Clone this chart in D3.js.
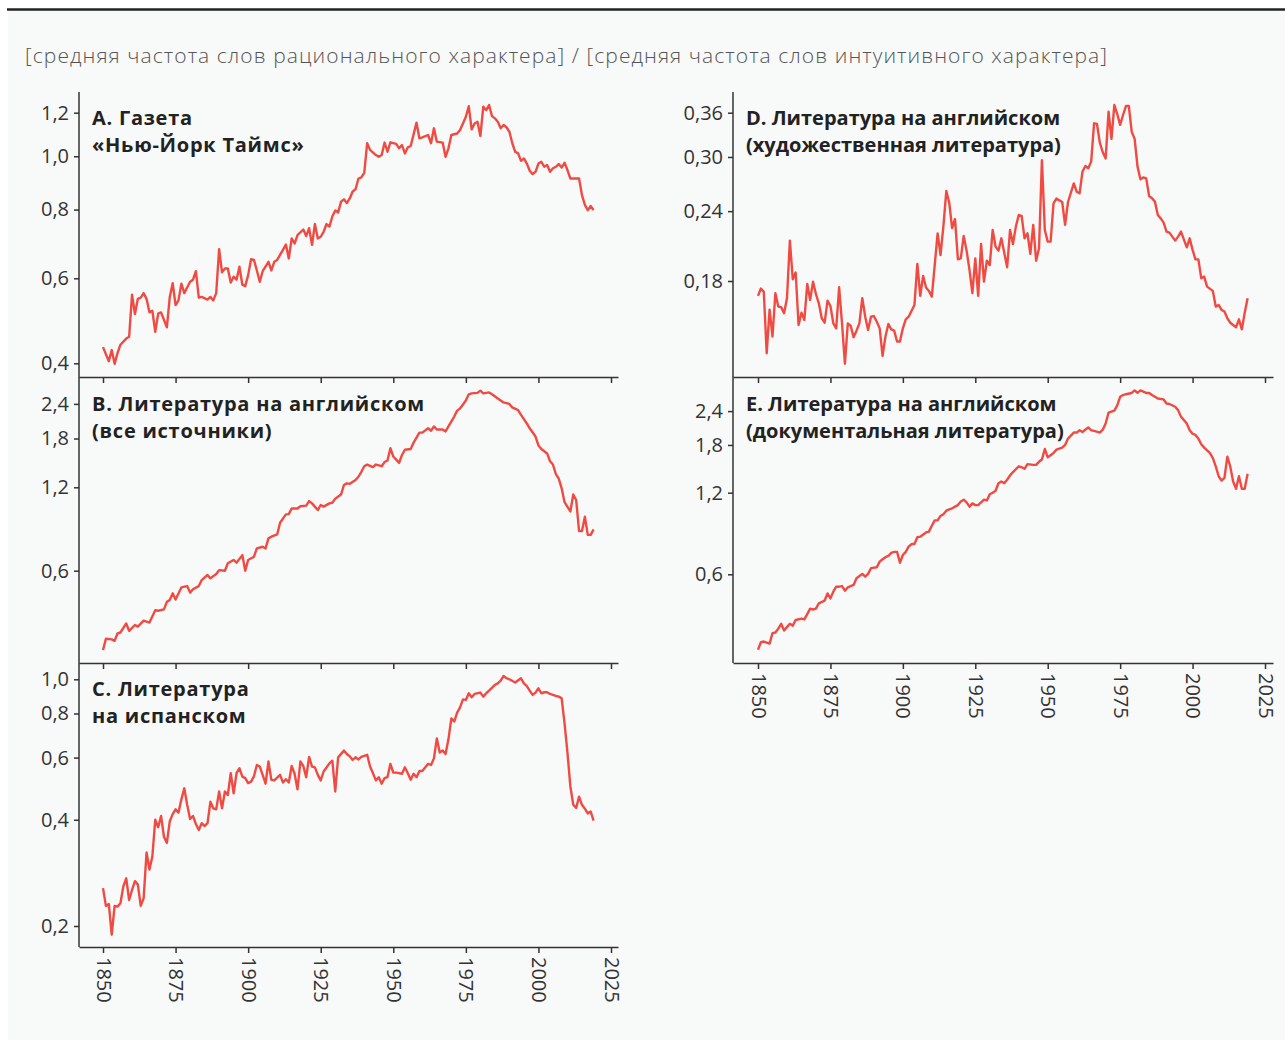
<!DOCTYPE html>
<html lang="ru">
<head>
<meta charset="UTF-8">
<title>Рациональное / интуитивное</title>
<script src="https://cdnjs.cloudflare.com/ajax/libs/d3/7.9.0/d3.min.js"></script>
<style>
  body { margin: 0; background: #fff; }
  svg { display: block; font-family: "Open Sans", "Noto Sans", sans-serif; }
  .axis path, .axis line { stroke: #333; stroke-width: 1.5; }
  .axis text { fill: #333; font-size: 20px; font-family: "Open Sans", sans-serif; }
  .title { font-size: 20px; font-weight: 700; fill: #222; }
  .title.wide { letter-spacing: 0.75px; }
  .subtitle { font-size: 21px; font-weight: 300; fill: #555; }
  .line { fill: none; stroke: #ef4b43; stroke-width: 2.4; stroke-linejoin: round; }
</style>
</head>
<body>
<svg id="chart" width="1285" height="1046"></svg>
<script>
// [year, ratio]
const nytSeries = [[1850,0.432],[1852,0.404],[1853,0.426],[1854,0.399],[1855,0.42],[1856,0.437],[1858,0.45],[1859,0.454],[1860,0.555],[1861,0.506],[1862,0.544],[1863,0.547],[1864,0.559],[1865,0.544],[1866,0.51],[1867,0.514],[1868,0.465],[1869,0.507],[1870,0.51],[1872,0.475],[1873,0.549],[1874,0.586],[1875,0.528],[1876,0.54],[1877,0.585],[1878,0.559],[1880,0.59],[1881,0.596],[1882,0.618],[1883,0.547],[1884,0.549],[1886,0.542],[1887,0.549],[1888,0.54],[1889,0.559],[1890,0.678],[1891,0.615],[1892,0.625],[1893,0.625],[1894,0.588],[1895,0.604],[1896,0.596],[1897,0.63],[1898,0.582],[1899,0.578],[1900,0.608],[1901,0.65],[1902,0.648],[1903,0.62],[1904,0.59],[1905,0.618],[1907,0.643],[1908,0.62],[1909,0.643],[1910,0.648],[1911,0.662],[1913,0.691],[1914,0.652],[1915,0.709],[1916,0.694],[1917,0.719],[1919,0.736],[1920,0.716],[1921,0.74],[1922,0.69],[1923,0.753],[1924,0.709],[1925,0.714],[1926,0.729],[1927,0.753],[1928,0.745],[1929,0.777],[1930,0.797],[1931,0.79],[1932,0.827],[1933,0.835],[1934,0.822],[1935,0.838],[1936,0.863],[1937,0.871],[1938,0.911],[1939,0.915],[1940,0.933],[1941,1.056],[1942,1.027],[1944,1.005],[1945,0.998],[1946,1.005],[1947,1.059],[1948,1.019],[1949,1.06],[1951,1.053],[1952,1.034],[1953,1.048],[1954,1.012],[1955,1.038],[1956,1.044],[1958,1.151],[1959,1.078],[1960,1.082],[1962,1.093],[1963,1.056],[1964,1.124],[1965,1.063],[1967,1.059],[1968,0.998],[1969,1.034],[1970,1.093],[1972,1.10],[1973,1.116],[1974,1.147],[1975,1.18],[1976,1.233],[1977,1.119],[1978,1.147],[1979,1.155],[1980,1.089],[1981,1.23],[1982,1.213],[1983,1.239],[1984,1.183],[1985,1.172],[1986,1.155],[1987,1.124],[1988,1.14],[1989,1.129],[1990,1.108],[1991,1.056],[1992,1.019],[1993,1.012],[1994,0.981],[1995,0.991],[1996,0.97],[1997,0.941],[1998,0.928],[1999,0.937],[2000,0.97],[2001,0.977],[2002,0.957],[2003,0.964],[2004,0.937],[2005,0.951],[2006,0.957],[2007,0.968],[2008,0.954],[2009,0.973],[2010,0.944],[2011,0.911],[2012,0.911],[2014,0.911],[2015,0.85],[2016,0.816],[2017,0.798],[2018,0.812],[2019,0.798]];

const engAllSeries = [[1850,0.31],[1851,0.341],[1853,0.339],[1854,0.335],[1855,0.356],[1856,0.359],[1858,0.387],[1859,0.364],[1861,0.382],[1862,0.377],[1864,0.396],[1865,0.393],[1866,0.39],[1868,0.432],[1869,0.43],[1871,0.435],[1872,0.463],[1873,0.47],[1874,0.497],[1875,0.472],[1877,0.522],[1879,0.528],[1880,0.50],[1881,0.514],[1883,0.528],[1884,0.555],[1886,0.579],[1887,0.563],[1889,0.584],[1890,0.603],[1892,0.6],[1893,0.638],[1895,0.656],[1896,0.641],[1898,0.683],[1899,0.60],[1900,0.656],[1902,0.674],[1903,0.722],[1905,0.732],[1906,0.722],[1907,0.785],[1908,0.796],[1910,0.811],[1911,0.894],[1913,0.958],[1914,0.96],[1915,1.006],[1917,1.006],[1918,1.025],[1920,1.03],[1921,1.07],[1922,1.05],[1924,0.993],[1925,1.036],[1926,1.022],[1928,1.05],[1929,1.055],[1930,1.092],[1932,1.13],[1933,1.223],[1934,1.24],[1935,1.235],[1937,1.275],[1938,1.31],[1939,1.365],[1940,1.43],[1941,1.45],[1943,1.42],[1944,1.45],[1946,1.43],[1947,1.48],[1948,1.50],[1949,1.66],[1950,1.55],[1951,1.51],[1952,1.47],[1953,1.57],[1954,1.64],[1956,1.65],[1957,1.74],[1959,1.89],[1960,1.89],[1962,1.96],[1963,1.92],[1964,1.99],[1965,1.94],[1967,1.94],[1968,1.91],[1969,1.99],[1971,2.16],[1972,2.27],[1973,2.31],[1975,2.47],[1976,2.6],[1977,2.62],[1979,2.63],[1980,2.68],[1981,2.62],[1983,2.64],[1984,2.60],[1986,2.51],[1988,2.43],[1990,2.40],[1991,2.33],[1993,2.28],[1994,2.19],[1996,2.04],[1997,1.96],[1999,1.83],[2000,1.70],[2001,1.65],[2003,1.59],[2004,1.49],[2005,1.45],[2006,1.34],[2007,1.29],[2008,1.19],[2009,1.06],[2011,0.982],[2012,1.13],[2013,1.08],[2014,0.834],[2015,0.834],[2016,0.94],[2017,0.808],[2018,0.808],[2019,0.846]];

const spanishSeries = [[1850,0.256],[1851,0.228],[1852,0.231],[1853,0.189],[1854,0.228],[1855,0.227],[1856,0.232],[1857,0.259],[1858,0.273],[1859,0.237],[1860,0.253],[1861,0.268],[1862,0.262],[1863,0.228],[1864,0.24],[1865,0.323],[1866,0.289],[1867,0.315],[1868,0.40],[1869,0.381],[1870,0.41],[1871,0.358],[1872,0.344],[1873,0.396],[1874,0.415],[1875,0.428],[1876,0.419],[1877,0.457],[1878,0.491],[1879,0.441],[1880,0.402],[1881,0.41],[1882,0.389],[1883,0.374],[1884,0.391],[1885,0.384],[1886,0.391],[1887,0.45],[1888,0.431],[1889,0.428],[1890,0.481],[1891,0.431],[1892,0.481],[1893,0.47],[1894,0.542],[1895,0.475],[1896,0.542],[1897,0.56],[1898,0.53],[1899,0.525],[1900,0.508],[1901,0.513],[1902,0.531],[1903,0.572],[1904,0.566],[1905,0.536],[1906,0.506],[1907,0.585],[1908,0.519],[1909,0.517],[1911,0.536],[1912,0.51],[1913,0.521],[1914,0.51],[1915,0.568],[1916,0.54],[1917,0.488],[1918,0.585],[1919,0.568],[1920,0.528],[1921,0.603],[1922,0.566],[1923,0.563],[1924,0.536],[1925,0.517],[1926,0.548],[1928,0.578],[1929,0.588],[1930,0.481],[1931,0.601],[1933,0.628],[1934,0.614],[1935,0.605],[1936,0.591],[1937,0.601],[1938,0.593],[1939,0.603],[1941,0.611],[1942,0.566],[1943,0.542],[1944,0.517],[1945,0.528],[1946,0.506],[1947,0.525],[1948,0.528],[1949,0.576],[1950,0.544],[1951,0.544],[1953,0.54],[1954,0.563],[1955,0.542],[1956,0.519],[1957,0.54],[1958,0.528],[1959,0.55],[1960,0.55],[1962,0.576],[1963,0.572],[1964,0.597],[1965,0.68],[1966,0.62],[1967,0.628],[1968,0.614],[1969,0.676],[1970,0.775],[1971,0.759],[1972,0.805],[1973,0.833],[1974,0.877],[1975,0.874],[1976,0.913],[1977,0.889],[1978,0.909],[1980,0.917],[1981,0.893],[1982,0.913],[1983,0.929],[1985,0.964],[1986,0.974],[1987,0.991],[1988,1.022],[1989,1.007],[1990,1.0],[1992,0.979],[1994,1.007],[1995,0.974],[1996,0.957],[1997,0.929],[1998,0.903],[1999,0.917],[2000,0.943],[2001,0.913],[2002,0.919],[2003,0.919],[2004,0.909],[2006,0.897],[2007,0.893],[2008,0.883],[2009,0.75],[2010,0.62],[2011,0.497],[2012,0.441],[2013,0.432],[2014,0.465],[2015,0.441],[2016,0.43],[2017,0.417],[2018,0.422],[2019,0.398]];

const fictionSeries = [[1850,0.1693],[1851,0.1745],[1852,0.1721],[1853,0.1337],[1854,0.160],[1855,0.1432],[1856,0.1712],[1857,0.162],[1858,0.1616],[1859,0.1576],[1860,0.1677],[1861,0.2126],[1862,0.1813],[1863,0.1864],[1864,0.1502],[1865,0.158],[1866,0.1533],[1867,0.1778],[1868,0.1665],[1869,0.1795],[1870,0.1705],[1871,0.1642],[1872,0.1544],[1873,0.1516],[1874,0.166],[1875,0.1624],[1876,0.1512],[1877,0.1481],[1878,0.1754],[1879,0.1512],[1880,0.128],[1881,0.1512],[1882,0.1496],[1883,0.1428],[1884,0.1467],[1885,0.1512],[1886,0.1677],[1887,0.1554],[1888,0.1471],[1889,0.1554],[1890,0.1558],[1891,0.1522],[1892,0.1481],[1893,0.1322],[1894,0.1432],[1895,0.1508],[1896,0.1475],[1897,0.1467],[1898,0.1403],[1899,0.1403],[1900,0.1481],[1901,0.1537],[1902,0.1554],[1904,0.1631],[1905,0.1931],[1906,0.1693],[1907,0.1838],[1908,0.1752],[1909,0.1728],[1910,0.1688],[1912,0.219],[1913,0.2003],[1914,0.2258],[1915,0.2607],[1916,0.2486],[1917,0.2237],[1918,0.2323],[1919,0.1968],[1920,0.1976],[1921,0.2167],[1922,0.204],[1923,0.1884],[1924,0.1712],[1925,0.1976],[1926,0.1693],[1927,0.2096],[1928,0.1795],[1929,0.1957],[1930,0.1922],[1931,0.2221],[1932,0.2074],[1933,0.204],[1934,0.2146],[1936,0.1905],[1937,0.2221],[1938,0.2096],[1939,0.2252],[1940,0.2362],[1941,0.2353],[1942,0.2146],[1943,0.2191],[1944,0.2013],[1945,0.2268],[1946,0.1957],[1947,0.206],[1948,0.2961],[1949,0.2221],[1950,0.2117],[1951,0.2117],[1952,0.2479],[1953,0.2527],[1955,0.2492],[1956,0.2268],[1957,0.2492],[1959,0.2691],[1960,0.26],[1961,0.2583],[1962,0.2824],[1963,0.289],[1964,0.2863],[1965,0.2943],[1966,0.3446],[1967,0.3437],[1968,0.3179],[1969,0.3059],[1970,0.2981],[1971,0.3615],[1972,0.3233],[1973,0.3715],[1974,0.358],[1975,0.3424],[1976,0.3566],[1977,0.37],[1978,0.37],[1979,0.3327],[1980,0.3233],[1981,0.2883],[1982,0.2736],[1983,0.2758],[1984,0.2747],[1985,0.2555],[1986,0.2531],[1987,0.2496],[1988,0.2362],[1989,0.233],[1990,0.2289],[1991,0.2206],[1992,0.2197],[1994,0.2126],[1995,0.2161],[1996,0.2206],[1998,0.2068],[1999,0.2146],[2000,0.2046],[2001,0.1968],[2002,0.1968],[2003,0.182],[2004,0.1833],[2005,0.1759],[2007,0.1728],[2008,0.162],[2009,0.1631],[2010,0.1598],[2011,0.1587],[2012,0.1544],[2013,0.1516],[2015,0.1488],[2016,0.1537],[2017,0.1475],[2018,0.158],[2019,0.1677]];

const nonfictionSeries = [[1850,0.316],[1851,0.337],[1852,0.339],[1854,0.333],[1855,0.364],[1856,0.366],[1857,0.378],[1858,0.394],[1859,0.372],[1860,0.383],[1861,0.394],[1862,0.388],[1863,0.407],[1865,0.412],[1866,0.409],[1867,0.428],[1868,0.448],[1869,0.445],[1870,0.448],[1871,0.469],[1873,0.48],[1874,0.51],[1875,0.489],[1876,0.518],[1877,0.54],[1878,0.54],[1879,0.543],[1880,0.522],[1881,0.537],[1883,0.548],[1884,0.58],[1886,0.602],[1887,0.588],[1888,0.602],[1889,0.632],[1891,0.637],[1892,0.668],[1893,0.682],[1894,0.694],[1895,0.701],[1896,0.72],[1897,0.726],[1898,0.726],[1899,0.662],[1900,0.707],[1901,0.726],[1902,0.759],[1903,0.776],[1904,0.776],[1905,0.822],[1906,0.826],[1908,0.856],[1909,0.862],[1910,0.906],[1911,0.949],[1912,0.949],[1913,0.985],[1914,1.0],[1915,1.03],[1916,1.042],[1917,1.05],[1918,1.066],[1919,1.08],[1920,1.114],[1921,1.131],[1922,1.105],[1923,1.066],[1924,1.096],[1925,1.08],[1926,1.08],[1927,1.105],[1928,1.131],[1929,1.124],[1930,1.184],[1931,1.20],[1932,1.22],[1933,1.30],[1934,1.32],[1935,1.30],[1936,1.34],[1937,1.39],[1938,1.43],[1940,1.50],[1941,1.49],[1942,1.47],[1943,1.53],[1945,1.52],[1946,1.52],[1947,1.56],[1948,1.59],[1949,1.74],[1950,1.62],[1951,1.65],[1952,1.68],[1953,1.73],[1955,1.76],[1956,1.80],[1957,1.90],[1959,2.00],[1960,2.00],[1961,2.04],[1962,2.01],[1964,2.09],[1965,2.04],[1966,2.03],[1968,2.00],[1969,2.05],[1970,2.16],[1971,2.37],[1973,2.41],[1974,2.52],[1975,2.71],[1976,2.75],[1977,2.77],[1979,2.80],[1980,2.86],[1981,2.80],[1982,2.86],[1984,2.80],[1985,2.80],[1986,2.75],[1988,2.67],[1990,2.65],[1991,2.56],[1992,2.55],[1994,2.49],[1995,2.42],[1996,2.29],[1998,2.16],[1999,2.04],[2000,1.98],[2001,1.96],[2002,1.90],[2003,1.81],[2004,1.76],[2006,1.68],[2007,1.61],[2008,1.50],[2009,1.38],[2010,1.33],[2011,1.36],[2012,1.63],[2013,1.50],[2014,1.32],[2015,1.24],[2016,1.38],[2017,1.24],[2018,1.24],[2019,1.41]];

const yearTicks = [1850, 1875, 1900, 1925, 1950, 1975, 2000, 2025];
const nytTicks = [0.4, 0.6, 0.8, 1.0, 1.2];
const engAllTicks = [0.6, 1.2, 1.8, 2.4];
const spanishTicks = [0.2, 0.4, 0.6, 0.8, 1.0];
const fictionTicks = [0.18, 0.24, 0.30, 0.36];
const nonfictionTicks = [0.6, 1.2, 1.8, 2.4];

const subtitle = '[средняя частота слов рационального характера] / [средняя частота слов интуитивного характера]';

const svg = d3.select('#chart');

svg.append('rect')
    .attr('x', 8).attr('y', 10)
    .attr('width', 1277).attr('height', 1030)
    .attr('fill', '#f8f9f9');

svg.append('line')
    .attr('x1', 7).attr('x2', 1285)
    .attr('y1', 9.5).attr('y2', 9.5)
    .attr('stroke', '#222').attr('stroke-width', 2.5);

svg.append('text')
    .attr('class', 'subtitle')
    .attr('x', 25).attr('y', 63)
    .attr('textLength', 1082)
    .attr('lengthAdjust', 'spacing')
    .text(subtitle);

const ruFormat = d3.formatLocale({ decimal: ',', thousands: ' ', grouping: [3], currency: ['', ''] });

const leftX = d3.scaleLinear().domain([1841.73, 2027.41]).range([79, 618]);
const rightX = d3.scaleLinear().domain([1841.37, 2027.76]).range([733, 1273]);

const panels = [
    { series: nytSeries, ticks: nytTicks, fmt: '.1f', x: leftX, bottom: 377, years: false,
      y: d3.scaleLog().domain([0.4, 0.6, 1.2]).range([363.3, 278.3, 112.7]),
      title: ['A. Газета', '«Нью-Йорк Таймс»'], titleY: 125 },
    { series: engAllSeries, ticks: engAllTicks, fmt: '.1f', x: leftX, bottom: 663, years: false,
      y: d3.scaleLog().domain([0.6, 1.2]).range([570.7, 487.3]),
      title: ['B. Литература на английском', '(все источники)'], titleY: 411 },
    { series: spanishSeries, ticks: spanishTicks, fmt: '.1f', x: leftX, bottom: 947, years: true,
      y: d3.scaleLog().domain([0.2, 1.0]).range([926, 679.3]),
      title: ['C. Литература', 'на испанском'], titleY: 696 },
    { series: fictionSeries, ticks: fictionTicks, fmt: '.2f', x: rightX, bottom: 377, years: false,
      y: d3.scaleLog().domain([0.18, 0.36]).range([281, 112.7]),
      title: ['D. Литература на английском', '(художественная литература)'], titleY: 125 },
    { series: nonfictionSeries, ticks: nonfictionTicks, fmt: '.1f', x: rightX, bottom: 663, years: true,
      y: d3.scaleLog().domain([0.6, 1.2]).range([574.3, 492.7]),
      title: ['E. Литература на английском', '(документальная литература)'], titleY: 411 }
];

panels.forEach(p => {
    const x0 = p.x.range()[0];

    const yAxis = svg.append('g')
        .attr('class', 'axis')
        .attr('transform', `translate(${x0},0)`)
        .call(d3.axisLeft(p.y).tickValues(p.ticks)
            .tickFormat(ruFormat.format(p.fmt))
            .tickSize(5).tickPadding(5));
    yAxis.select('.domain').remove();

    const xAxis = svg.append('g')
        .attr('class', 'axis')
        .attr('transform', `translate(0,${p.bottom})`)
        .call(d3.axisBottom(p.x).tickValues(yearTicks)
            .tickFormat(d3.format('d'))
            .tickSize(6).tickSizeOuter(0));

    if (p.years) {
        xAxis.selectAll('text')
            .attr('x', 10).attr('y', 0).attr('dy', '0.35em')
            .attr('transform', 'rotate(90)')
            .style('text-anchor', 'start');
    } else {
        xAxis.selectAll('text').remove();
    }

    const line = d3.line()
        .x(d => p.x(d[0]))
        .y(d => p.y(d[1]));

    svg.append('path')
        .datum(p.series)
        .attr('class', 'line')
        .attr('d', line);

    const t = svg.append('text')
        .attr('class', x0 < 300 ? 'title wide' : 'title')
        .attr('x', x0 + 13)
        .attr('y', p.titleY);
    p.title.forEach((s, i) => {
        t.append('tspan')
            .attr('x', x0 + 13)
            .attr('dy', i === 0 ? 0 : 27)
            .text(s);
    });
});

// continuous left edges of the two columns
svg.append('line')
    .attr('x1', 79).attr('x2', 79).attr('y1', 92).attr('y2', 947)
    .attr('stroke', '#333').attr('stroke-width', 1.5);
svg.append('line')
    .attr('x1', 733).attr('x2', 733).attr('y1', 92).attr('y2', 663)
    .attr('stroke', '#333').attr('stroke-width', 1.5);
</script>
</body>
</html>
